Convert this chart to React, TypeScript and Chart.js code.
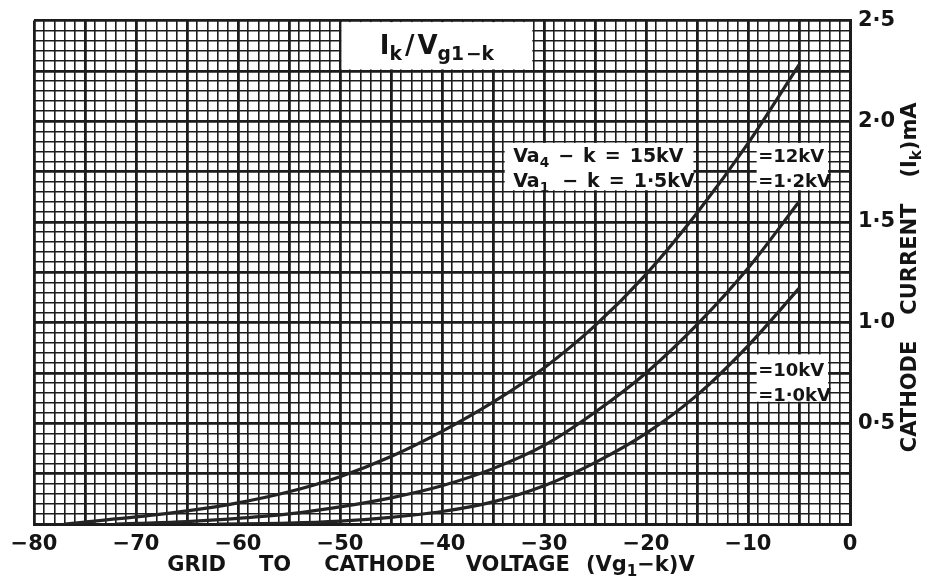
import React, { useEffect, useRef } from 'react';
import { Chart, registerables } from 'chart.js';

Chart.register(...registerables);

// ---- data ----
const vg15kV = [-77, -75, -70, -65, -60, -55, -50, -45, -40, -35, -30, -25, -20, -15, -10, -5];
const ik15kV = [0, 0.01, 0.035, 0.065, 0.105, 0.16, 0.235, 0.335, 0.46, 0.605, 0.775, 0.985, 1.24, 1.545, 1.89, 2.28];

const vg12kV = [-72, -70, -65, -60, -55, -50, -45, -40, -35, -30, -25, -20, -15, -10, -5];
const ik12kV = [0, 0.003, 0.012, 0.028, 0.05, 0.085, 0.13, 0.19, 0.275, 0.39, 0.555, 0.75, 0.99, 1.27, 1.6];

const vg10kV = [-62, -55, -50, -45, -40, -35, -30, -25, -20, -15, -10, -5];
const ik10kV = [0, 0.004, 0.014, 0.033, 0.062, 0.11, 0.19, 0.305, 0.45, 0.64, 0.885, 1.17];

const xTickLabels = ['−80', '−70', '−60', '−50', '−40', '−30', '−20', '−10', '0'];
const yTickLabels = ['0·5', '1·0', '1·5', '2·0', '2·5'];

const FONT = '"DejaVu Sans", "Liberation Sans", sans-serif';
const INK = '#141414';
const GRID = '#1c1c1c';

type Seg = { t: string; sub?: boolean; gap?: number; size?: number };

function segFont(s: Seg, size: number) {
  const fs = s.sub ? size * 0.72 : s.size ?? size;
  return `bold ${fs}px ${FONT}`;
}
function measureSegs(ctx: CanvasRenderingContext2D, segs: Seg[], size: number) {
  let w = 0;
  segs.forEach((s, i) => {
    ctx.font = segFont(s, size);
    w += ctx.measureText(s.t).width + (i < segs.length - 1 ? s.gap ?? 0 : 0);
  });
  return w;
}
function drawSegs(ctx: CanvasRenderingContext2D, segs: Seg[], x: number, y: number, size: number) {
  let cx = x;
  for (const s of segs) {
    ctx.font = segFont(s, size);
    ctx.fillText(s.t, cx, y + (s.sub ? size * 0.24 : 0));
    cx += ctx.measureText(s.t).width + (s.gap ?? 0);
  }
}

// label panels (in axis units) and their lettering
const PANELS = [
  {
    x0: -50, x1: -31, y0: 2.25, y1: 2.5, size: 26, center: true, lines: [
      { dy: 33, segs: [{ t: 'I' }, { t: 'k', sub: true, gap: 3 }, { t: '/', gap: 3 }, { t: 'V' }, { t: 'g', sub: true }, { t: '1', sub: true, gap: 2 }, { t: '−k', sub: true }] },
    ],
  },
  {
    x0: -34, x1: -15.2, y0: 1.65, y1: 1.9, size: 19, center: false, left: 10, lines: [
      { dy: 21, segs: [{ t: 'Va' }, { t: '4', sub: true, gap: 9 }, { t: '−', gap: 9 }, { t: 'k', gap: 9 }, { t: '=', gap: 9 }, { t: '15kV' }] },
      { dy: 46, segs: [{ t: 'Va' }, { t: '1', sub: true, gap: 13 }, { t: '−', gap: 9 }, { t: 'k', gap: 9 }, { t: '=', gap: 9 }, { t: '1·5kV' }] },
    ],
  },
  {
    x0: -9.3, x1: -2, y0: 1.65, y1: 1.9, size: 18, center: false, left: 3, lines: [
      { dy: 21, segs: [{ t: '=12kV' }] },
      { dy: 46, segs: [{ t: '=1·2kV' }] },
    ],
  },
  {
    x0: -9.3, x1: -2, y0: 0.6, y1: 0.85, size: 18, center: false, left: 3, lines: [
      { dy: 23, segs: [{ t: '=10kV' }] },
      { dy: 48, segs: [{ t: '=1·0kV' }] },
    ],
  },
];

const X_TITLE: Seg[] = [
  { t: 'GRID', gap: 33 }, { t: 'TO', gap: 33 }, { t: 'CATHODE', gap: 30 }, { t: 'VOLTAGE', gap: 16 },
  { t: '(Vg' }, { t: '1', sub: true }, { t: '−k)V' },
];
const Y_TITLE: Seg[] = [
  { t: 'CATHODE', gap: 26 }, { t: 'CURRENT', gap: 26 }, { t: '(I' }, { t: 'k', sub: true }, { t: ')mA' },
];

const draftingPlugin = {
  id: 'drafting',
  beforeDatasetsDraw(chart: any) {
    const { ctx } = chart;
    const xs = chart.scales.x, ys = chart.scales.y;
    ctx.save();
    ctx.fillStyle = '#ffffff';
    for (const p of PANELS) {
      const l = xs.getPixelForValue(p.x0) + 1.5;
      const r = xs.getPixelForValue(p.x1) - 1.5;
      const t = ys.getPixelForValue(p.y1) + 1.5;
      const b = ys.getPixelForValue(p.y0) - 1.5;
      ctx.fillRect(l, t, r - l, b - t);
    }
    ctx.restore();
  },
  afterDatasetsDraw(chart: any) {
    const { ctx } = chart;
    const xs = chart.scales.x, ys = chart.scales.y;
    ctx.save();
    ctx.fillStyle = INK;
    ctx.textBaseline = 'alphabetic';
    ctx.textAlign = 'left';
    for (const p of PANELS) {
      const l = xs.getPixelForValue(p.x0);
      const r = xs.getPixelForValue(p.x1);
      const t = ys.getPixelForValue(p.y1);
      for (const line of p.lines) {
        const w = measureSegs(ctx, line.segs, p.size);
        const x = p.center ? (l + r) / 2 - w / 2 : l + (p.left ?? 0);
        drawSegs(ctx, line.segs, x, t + line.dy, p.size);
      }
    }
    ctx.restore();
  },
  afterDraw(chart: any) {
    const { ctx, chartArea } = chart;
    ctx.save();
    ctx.fillStyle = INK;
    ctx.textBaseline = 'alphabetic';
    ctx.textAlign = 'left';
    const size = 21;
    // x title
    const wx = measureSegs(ctx, X_TITLE, size);
    const cx = (chartArea.left + chartArea.right) / 2 - 11;
    drawSegs(ctx, X_TITLE, cx - wx / 2, chartArea.bottom + 47, size);
    // y title (reads bottom to top)
    const wy = measureSegs(ctx, Y_TITLE, size);
    const cy = (chartArea.top + chartArea.bottom) / 2 + 5;
    ctx.translate(chartArea.right + 58, cy);
    ctx.rotate(-Math.PI / 2);
    drawSegs(ctx, Y_TITLE, -wy / 2, 7.5, size);
    ctx.restore();
  },
};

function series(xs: number[], ys: number[]) {
  return xs.map((x, i) => ({ x, y: ys[i] }));
}

export default function App() {
  const ref = useRef<HTMLCanvasElement>(null);

  useEffect(() => {
    document.body.style.margin = '0';
    const lineStyle = {
      borderColor: '#242424',
      borderWidth: 3.2,
      pointRadius: 0,
      fill: false,
      cubicInterpolationMode: 'monotone' as const,
      borderCapStyle: 'round' as const,
    };
    const chart = new Chart(ref.current as HTMLCanvasElement, {
      type: 'line',
      data: {
        datasets: [
          { label: 'Va4-k = 15kV, Va1-k = 1·5kV', data: series(vg15kV, ik15kV), ...lineStyle },
          { label: 'Va4-k = 12kV, Va1-k = 1·2kV', data: series(vg12kV, ik12kV), ...lineStyle },
          { label: 'Va4-k = 10kV, Va1-k = 1·0kV', data: series(vg10kV, ik10kV), ...lineStyle },
        ],
      },
      options: {
        animation: false,
        responsive: true,
        maintainAspectRatio: false,
        layout: { padding: { left: 34, top: 15, right: 0, bottom: 0 } },
        plugins: { legend: { display: false }, tooltip: { enabled: false }, title: { display: false } },
        scales: {
          x: {
            type: 'linear',
            min: -80,
            max: 0,
            afterFit: (s: any) => { s.height = 58; },
            grid: {
              color: GRID,
              drawTicks: false,
              lineWidth: (c: any) => (Math.round(c.tick.value) % 5 === 0 ? 2.8 : 1.6),
            },
            border: { display: true, color: GRID, width: 3 },
            ticks: {
              stepSize: 1,
              autoSkip: false,
              maxRotation: 0,
              minRotation: 0,
              padding: 8,
              color: INK,
              font: { family: FONT, size: 21, weight: 'bold' },
              callback: (v: any) => {
                const n = Math.round(Number(v));
                return n % 10 === 0 ? xTickLabels[(n + 80) / 10] : '';
              },
            },
          },
          y: {
            type: 'linear',
            position: 'right',
            min: 0,
            max: 2.5,
            afterFit: (s: any) => { s.width = 90; },
            grid: {
              color: GRID,
              drawTicks: false,
              lineWidth: (c: any) => (Math.round(c.tick.value * 100) % 25 === 0 ? 2.8 : 1.6),
            },
            border: { display: true, color: GRID, width: 3 },
            ticks: {
              stepSize: 0.05,
              autoSkip: false,
              padding: 8,
              color: INK,
              font: { family: FONT, size: 21, weight: 'bold' },
              callback: (v: any) => {
                const c = Math.round(Number(v) * 100);
                return c % 50 === 0 && c > 0 ? yTickLabels[c / 50 - 1] : '';
              },
            },
          },
        },
      },
      plugins: [draftingPlugin],
    } as any);
    return () => chart.destroy();
  }, []);

  return (
    <div style={{ position: 'fixed', left: 0, top: 0, width: 940, height: 582, background: '#fff' }}>
      <canvas ref={ref} />
    </div>
  );
}
